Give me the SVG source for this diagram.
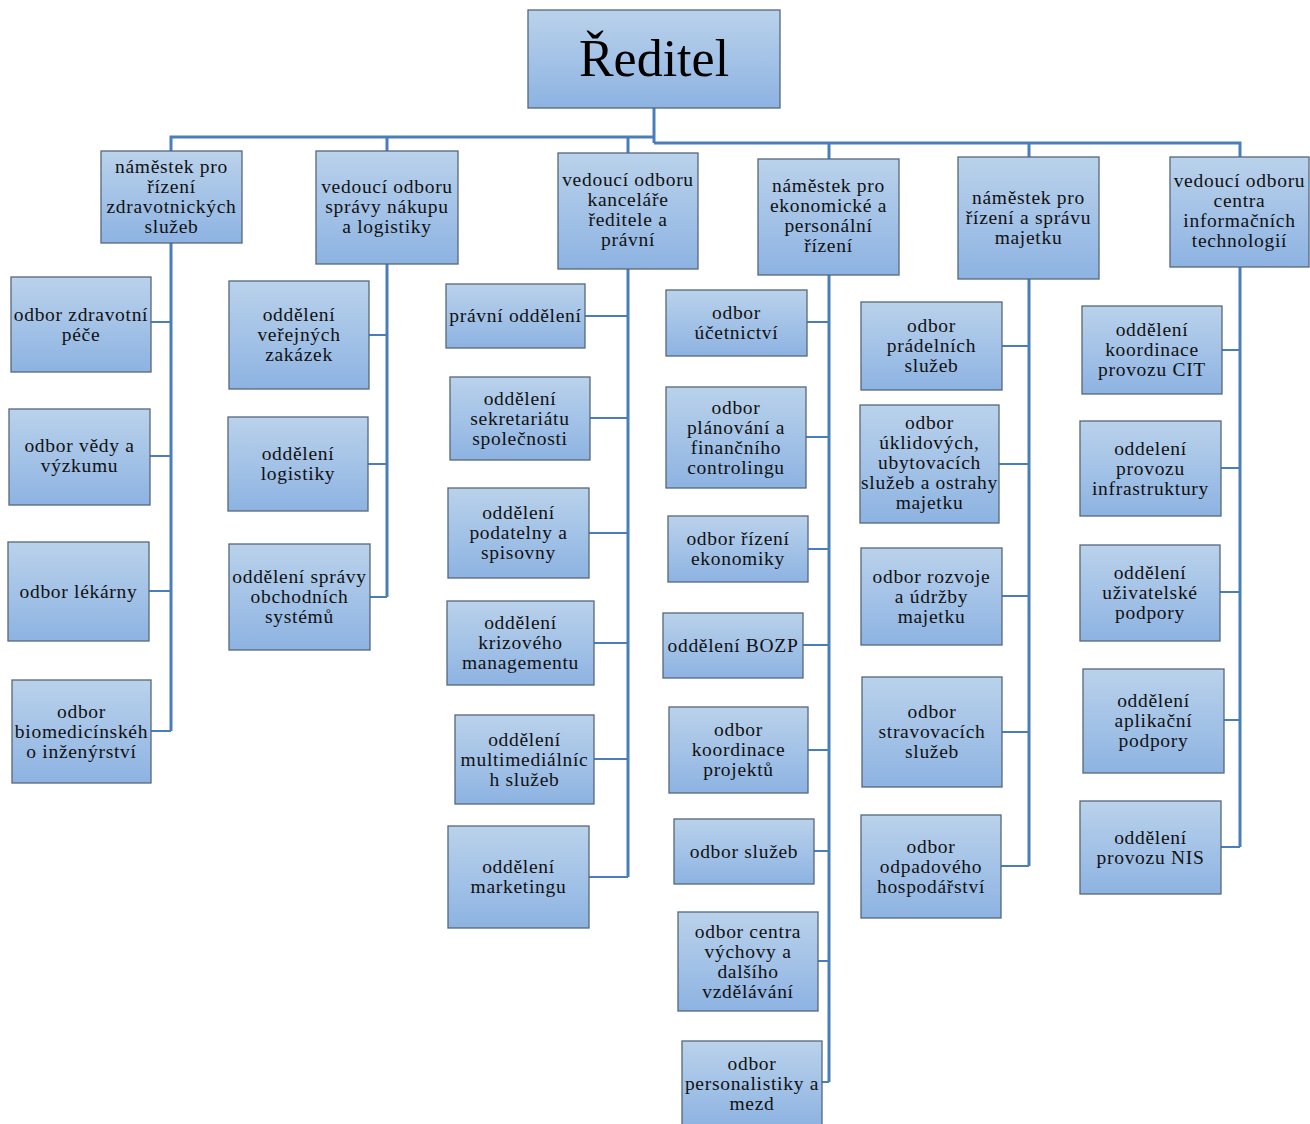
<svg xmlns="http://www.w3.org/2000/svg" width="1310" height="1124" viewBox="0 0 1310 1124">
  <defs>
    <linearGradient id="boxFill" x1="0" y1="0" x2="0" y2="1">
      <stop offset="0" stop-color="#bad2eb"/>
      <stop offset="1" stop-color="#8db3e2"/>
    </linearGradient>
    <style>
      .box { fill: url(#boxFill); stroke: #56677c; stroke-width: 1.3; }
      .lbl { font-family: "Liberation Serif", "Times New Roman", serif; font-size: 19.5px; letter-spacing: 0.7px; fill: #111; text-anchor: middle; }
      .title { font-family: "Liberation Serif", "Times New Roman", serif; font-size: 52px; fill: #000; text-anchor: middle; }
      .spine { fill: none; stroke: #4a7ebb; stroke-width: 3; }
      .stub { fill: none; stroke: #4a7ebb; stroke-width: 2; }
    </style>
  </defs>
  <rect width="1310" height="1124" fill="#fff"/>

  <!-- connectors -->
  <g id="connectors">
    <!-- bus from the director -->
    <path class="spine" d="M654 108 V143"/>
    <path class="spine" d="M654 137 H171 V151 M387 137 V151 M628 137 V153"/>
    <path class="spine" d="M654 143 H1240 V157 M829 143 V159 M1029 143 V157"/>
    <!-- column spines -->
    <path class="spine" d="M171 243 V731"/>
    <path class="spine" d="M387 264 V597"/>
    <path class="spine" d="M628 269 V877"/>
    <path class="spine" d="M829 275 V1082"/>
    <path class="spine" d="M1029 279 V866"/>
    <path class="spine" d="M1240 267 V847"/>
    <!-- stubs -->
    <path class="stub" d="M151 322 H171 M150 456 H171 M149 591 H171 M151 731 H171"/>
    <path class="stub" d="M369 335 H387 M368 464 H387 M370 597 H387"/>
    <path class="stub" d="M585 316 H628 M590 418 H628 M589 533 H628 M594 643 H628 M594 759 H628 M589 877 H628"/>
    <path class="stub" d="M807 322 H829 M806 437 H829 M808 549 H829 M803 645 H829 M808 750 H829 M814 851 H829 M818 961 H829 M822 1082 H829"/>
    <path class="stub" d="M1002 346 H1029 M999 464 H1029 M1002 596 H1029 M1002 732 H1029 M1001 866 H1029"/>
    <path class="stub" d="M1222 350 H1240 M1221 468 H1240 M1220 592 H1240 M1224 720 H1240 M1221 847 H1240"/>
  </g>

  <!-- director -->
  <g id="reditel">
    <rect class="box" x="528" y="10" width="252" height="98"/>
    <text class="title" x="654" y="76">Ředitel</text>
  </g>

  <!-- managers -->
  <g id="m-zdrav">
    <rect class="box" x="101" y="151" width="141" height="92"/>
    <text class="lbl"><tspan x="171.5" y="173">náměstek pro</tspan><tspan x="171.5" y="193">řízení</tspan><tspan x="171.5" y="213">zdravotnických</tspan><tspan x="171.5" y="233">služeb</tspan></text>
  </g>
  <g id="m-nakup">
    <rect class="box" x="316" y="151" width="142" height="113"/>
    <text class="lbl"><tspan x="387" y="193">vedoucí odboru</tspan><tspan x="387" y="213">správy nákupu</tspan><tspan x="387" y="233">a logistiky</tspan></text>
  </g>
  <g id="m-kancelar">
    <rect class="box" x="558" y="153" width="140" height="116"/>
    <text class="lbl"><tspan x="628" y="186">vedoucí odboru</tspan><tspan x="628" y="206">kanceláře</tspan><tspan x="628" y="226">ředitele a</tspan><tspan x="628" y="246">právní</tspan></text>
  </g>
  <g id="m-ekonom">
    <rect class="box" x="758" y="159" width="141" height="116"/>
    <text class="lbl"><tspan x="828.5" y="192">náměstek pro</tspan><tspan x="828.5" y="212">ekonomické a</tspan><tspan x="828.5" y="232">personální</tspan><tspan x="828.5" y="252">řízení</tspan></text>
  </g>
  <g id="m-majetek">
    <rect class="box" x="958" y="157" width="141" height="122"/>
    <text class="lbl"><tspan x="1028.5" y="204">náměstek pro</tspan><tspan x="1028.5" y="224">řízení a správu</tspan><tspan x="1028.5" y="244">majetku</tspan></text>
  </g>
  <g id="m-cit">
    <rect class="box" x="1170" y="157" width="139" height="110"/>
    <text class="lbl"><tspan x="1239.5" y="187">vedoucí odboru</tspan><tspan x="1239.5" y="207">centra</tspan><tspan x="1239.5" y="227">informačních</tspan><tspan x="1239.5" y="247">technologií</tspan></text>
  </g>

  <!-- column 1 -->
  <g id="c1-pece">
    <rect class="box" x="11" y="277" width="140" height="95"/>
    <text class="lbl"><tspan x="81" y="320.5">odbor zdravotní</tspan><tspan x="81" y="340.5">péče</tspan></text>
  </g>
  <g id="c1-vedy">
    <rect class="box" x="9" y="409" width="141" height="96"/>
    <text class="lbl"><tspan x="79.5" y="452">odbor vědy a</tspan><tspan x="79.5" y="472">výzkumu</tspan></text>
  </g>
  <g id="c1-lekarny">
    <rect class="box" x="8" y="542" width="141" height="99"/>
    <text class="lbl"><tspan x="78.5" y="597.5">odbor lékárny</tspan></text>
  </g>
  <g id="c1-biomed">
    <rect class="box" x="12" y="680" width="139" height="103"/>
    <text class="lbl"><tspan x="81.5" y="717.5">odbor</tspan><tspan x="81.5" y="737.5">biomedicínskéh</tspan><tspan x="81.5" y="757.5">o inženýrství</tspan></text>
  </g>

  <!-- column 2 -->
  <g id="c2-zakazky">
    <rect class="box" x="229" y="281" width="140" height="108"/>
    <text class="lbl"><tspan x="299" y="321">oddělení</tspan><tspan x="299" y="341">veřejných</tspan><tspan x="299" y="361">zakázek</tspan></text>
  </g>
  <g id="c2-logistika">
    <rect class="box" x="228" y="417" width="140" height="94"/>
    <text class="lbl"><tspan x="298" y="460">oddělení</tspan><tspan x="298" y="480">logistiky</tspan></text>
  </g>
  <g id="c2-obchod">
    <rect class="box" x="229" y="544" width="141" height="106"/>
    <text class="lbl"><tspan x="299.5" y="583">oddělení správy</tspan><tspan x="299.5" y="603">obchodních</tspan><tspan x="299.5" y="623">systémů</tspan></text>
  </g>

  <!-- column 3 -->
  <g id="c3-pravni">
    <rect class="box" x="446" y="284" width="139" height="64"/>
    <text class="lbl"><tspan x="515.5" y="322">právní oddělení</tspan></text>
  </g>
  <g id="c3-sekretariat">
    <rect class="box" x="450" y="377" width="140" height="83"/>
    <text class="lbl"><tspan x="520" y="404.5">oddělení</tspan><tspan x="520" y="424.5">sekretariátu</tspan><tspan x="520" y="444.5">společnosti</tspan></text>
  </g>
  <g id="c3-podatelna">
    <rect class="box" x="448" y="488" width="141" height="90"/>
    <text class="lbl"><tspan x="518.5" y="519">oddělení</tspan><tspan x="518.5" y="539">podatelny a</tspan><tspan x="518.5" y="559">spisovny</tspan></text>
  </g>
  <g id="c3-krize">
    <rect class="box" x="447" y="601" width="147" height="84"/>
    <text class="lbl"><tspan x="520.5" y="629">oddělení</tspan><tspan x="520.5" y="649">krizového</tspan><tspan x="520.5" y="669">managementu</tspan></text>
  </g>
  <g id="c3-multimedia">
    <rect class="box" x="455" y="715" width="139" height="89"/>
    <text class="lbl"><tspan x="524.5" y="745.5">oddělení</tspan><tspan x="524.5" y="765.5">multimediálníc</tspan><tspan x="524.5" y="785.5">h služeb</tspan></text>
  </g>
  <g id="c3-marketing">
    <rect class="box" x="448" y="826" width="141" height="102"/>
    <text class="lbl"><tspan x="518.5" y="873">oddělení</tspan><tspan x="518.5" y="893">marketingu</tspan></text>
  </g>

  <!-- column 4 -->
  <g id="c4-ucetnictvi">
    <rect class="box" x="666" y="290" width="141" height="66"/>
    <text class="lbl"><tspan x="736.5" y="319">odbor</tspan><tspan x="736.5" y="339">účetnictví</tspan></text>
  </g>
  <g id="c4-planovani">
    <rect class="box" x="666" y="387" width="140" height="101"/>
    <text class="lbl"><tspan x="736" y="413.5">odbor</tspan><tspan x="736" y="433.5">plánování a</tspan><tspan x="736" y="453.5">finančního</tspan><tspan x="736" y="473.5">controlingu</tspan></text>
  </g>
  <g id="c4-ekonomika">
    <rect class="box" x="668" y="516" width="140" height="66"/>
    <text class="lbl"><tspan x="738" y="545">odbor řízení</tspan><tspan x="738" y="565">ekonomiky</tspan></text>
  </g>
  <g id="c4-bozp">
    <rect class="box" x="663" y="613" width="140" height="65"/>
    <text class="lbl"><tspan x="733" y="651.5">oddělení BOZP</tspan></text>
  </g>
  <g id="c4-projekty">
    <rect class="box" x="669" y="707" width="139" height="86"/>
    <text class="lbl"><tspan x="738.5" y="736">odbor</tspan><tspan x="738.5" y="756">koordinace</tspan><tspan x="738.5" y="776">projektů</tspan></text>
  </g>
  <g id="c4-sluzby">
    <rect class="box" x="674" y="819" width="140" height="65"/>
    <text class="lbl"><tspan x="744" y="857.5">odbor služeb</tspan></text>
  </g>
  <g id="c4-vychova">
    <rect class="box" x="678" y="912" width="140" height="99"/>
    <text class="lbl"><tspan x="748" y="937.5">odbor centra</tspan><tspan x="748" y="957.5">výchovy a</tspan><tspan x="748" y="977.5">dalšího</tspan><tspan x="748" y="997.5">vzdělávání</tspan></text>
  </g>
  <g id="c4-personal">
    <rect class="box" x="682" y="1041" width="140" height="86"/>
    <text class="lbl"><tspan x="752" y="1069.5">odbor</tspan><tspan x="752" y="1089.5">personalistiky a</tspan><tspan x="752" y="1109.5">mezd</tspan></text>
  </g>

  <!-- column 5 -->
  <g id="c5-pradelna">
    <rect class="box" x="861" y="302" width="141" height="88"/>
    <text class="lbl"><tspan x="931.5" y="332">odbor</tspan><tspan x="931.5" y="352">prádelních</tspan><tspan x="931.5" y="372">služeb</tspan></text>
  </g>
  <g id="c5-uklid">
    <rect class="box" x="860" y="405" width="139" height="118"/>
    <text class="lbl"><tspan x="929.5" y="429">odbor</tspan><tspan x="929.5" y="449">úklidových,</tspan><tspan x="929.5" y="469">ubytovacích</tspan><tspan x="929.5" y="489">služeb a ostrahy</tspan><tspan x="929.5" y="509">majetku</tspan></text>
  </g>
  <g id="c5-rozvoj">
    <rect class="box" x="861" y="548" width="141" height="97"/>
    <text class="lbl"><tspan x="931.5" y="582.5">odbor rozvoje</tspan><tspan x="931.5" y="602.5">a údržby</tspan><tspan x="931.5" y="622.5">majetku</tspan></text>
  </g>
  <g id="c5-strava">
    <rect class="box" x="862" y="677" width="140" height="110"/>
    <text class="lbl"><tspan x="932" y="718">odbor</tspan><tspan x="932" y="738">stravovacích</tspan><tspan x="932" y="758">služeb</tspan></text>
  </g>
  <g id="c5-odpady">
    <rect class="box" x="861" y="815" width="140" height="103"/>
    <text class="lbl"><tspan x="931" y="852.5">odbor</tspan><tspan x="931" y="872.5">odpadového</tspan><tspan x="931" y="892.5">hospodářství</tspan></text>
  </g>

  <!-- column 6 -->
  <g id="c6-koordinace">
    <rect class="box" x="1082" y="306" width="140" height="88"/>
    <text class="lbl"><tspan x="1152" y="336">oddělení</tspan><tspan x="1152" y="356">koordinace</tspan><tspan x="1152" y="376">provozu CIT</tspan></text>
  </g>
  <g id="c6-infra">
    <rect class="box" x="1080" y="421" width="141" height="95"/>
    <text class="lbl"><tspan x="1150.5" y="454.5">oddelení</tspan><tspan x="1150.5" y="474.5">provozu</tspan><tspan x="1150.5" y="494.5">infrastruktury</tspan></text>
  </g>
  <g id="c6-uzivatel">
    <rect class="box" x="1080" y="545" width="140" height="96"/>
    <text class="lbl"><tspan x="1150" y="579">oddělení</tspan><tspan x="1150" y="599">uživatelské</tspan><tspan x="1150" y="619">podpory</tspan></text>
  </g>
  <g id="c6-aplikace">
    <rect class="box" x="1083" y="669" width="141" height="104"/>
    <text class="lbl"><tspan x="1153.5" y="707">oddělení</tspan><tspan x="1153.5" y="727">aplikační</tspan><tspan x="1153.5" y="747">podpory</tspan></text>
  </g>
  <g id="c6-nis">
    <rect class="box" x="1080" y="801" width="141" height="93"/>
    <text class="lbl"><tspan x="1150.5" y="843.5">oddělení</tspan><tspan x="1150.5" y="863.5">provozu NIS</tspan></text>
  </g>
</svg>
